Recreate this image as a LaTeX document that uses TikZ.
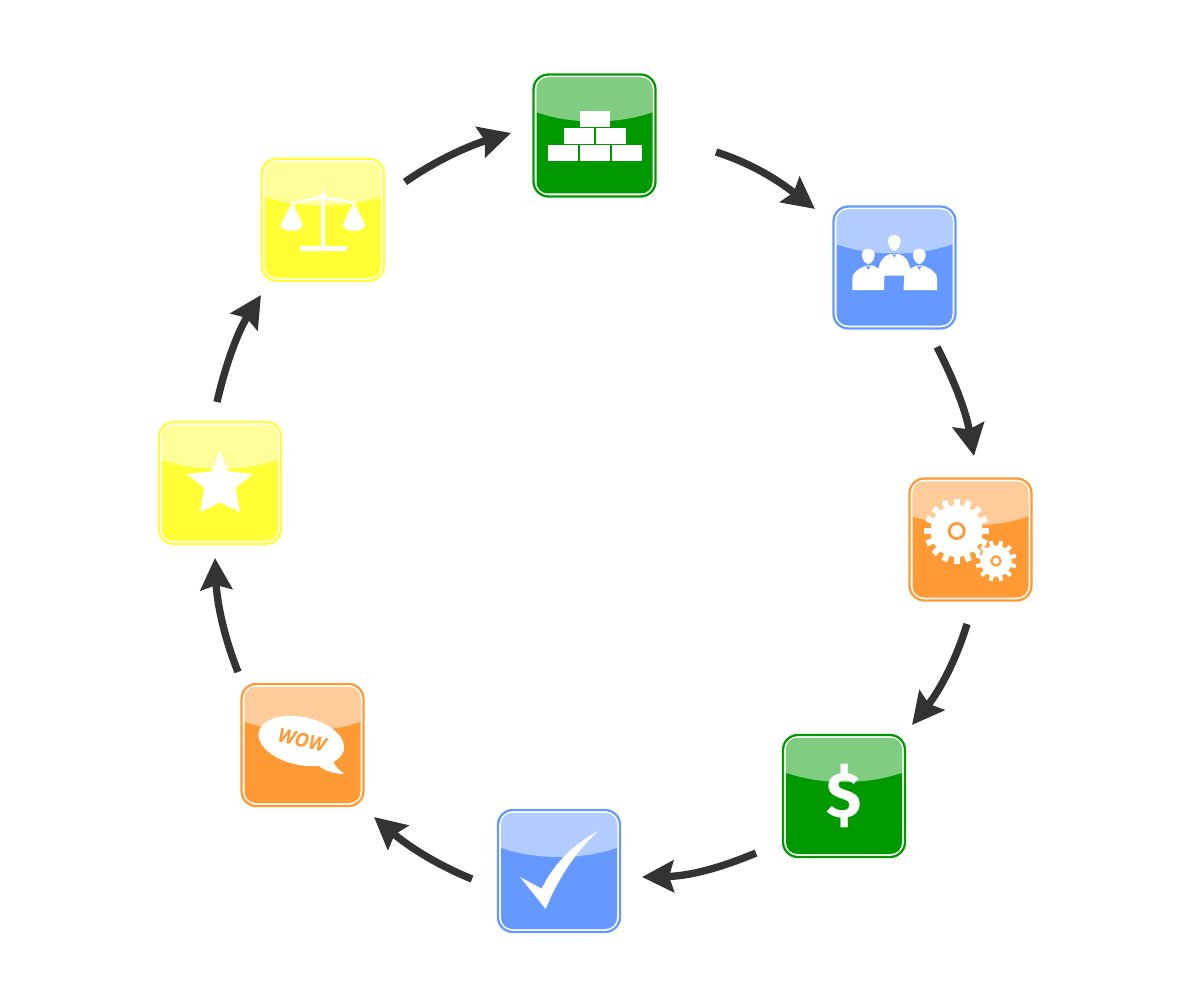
\documentclass[tikz,border=0pt]{standalone}
\usepackage{fontspec}
\setmainfont{Open Sans}
\newfontfamily\dollarfont{Fira Sans}
\usetikzlibrary{arrows.meta}
\definecolor{igreen}{HTML}{009900}
\definecolor{iblue}{HTML}{6699FF}
\definecolor{iorange}{HTML}{FF9933}
\definecolor{iyellow}{HTML}{FFFF33}
\definecolor{flowgrey}{HTML}{333333}
\tikzset{
  iconbox/.style={draw=#1,fill=white,rectangle,line width=1.3pt,minimum size=2.44cm,inner sep=0pt,outer sep=0pt,rounded corners=8.5pt},
  flow/.style={draw=flowgrey,line width=4.2pt,-{Stealth[length=18pt,width=18pt,inset=2.6pt,fill=flowgrey]}},
  glyph/.style={fill=white,draw=none},
}
% name, x, y, colour
\newcommand{\iconbase}[4]{%
  \node[iconbox=#4] (#1) at (#2,#3) {};
  \begin{scope}[shift={(#1.center)}]
    \fill[#4,rounded corners=6.5pt] (-58,-58) rectangle (58,58);
    \begin{scope}
      \clip[rounded corners=6.5pt] (-58,-58) rectangle (58,58);
      \fill[white,opacity=.5] (-60,-60) -- (60,-60) -- (60,-24) .. controls (25,-10.7) and (-25,-10.7) .. (-60,-24) -- cycle;
    \end{scope}
  \end{scope}}
\begin{document}
\begin{tikzpicture}[x=.02cm,y=-.02cm]
\useasboundingbox (0,0) rectangle (1200,1000);

% bricks
\iconbase{a}{594.5}{135.5}{igreen}
\begin{scope}[shift={(a.center)}]
  \fill[glyph] (-14.5,-24.5) rectangle (15.5,-8.8);
  \fill[glyph] (-31,-7.2) rectangle (-.5,8.2);
  \fill[glyph] (1,-7.2) rectangle (31.5,8.2);
  \fill[glyph] (-47,9.8) rectangle (-16.8,25.2);
  \fill[glyph] (-14.5,9.8) rectangle (15.5,25.2);
  \fill[glyph] (17.2,9.8) rectangle (47.5,25.2);
\end{scope}

% people
\iconbase{b}{894.5}{267.5}{iblue}
\begin{scope}[shift={(b.center)}]
  \fill[glyph] (-42.2,22.5) -- (-42.2,11) .. controls (-42.2,5) and (-36,1) .. (-28,-2) -- (-22,-2) -- (-10,4) -- (-10.5,22.5) -- cycle;
  \fill[glyph] (42.7,22.5) -- (42.7,11) .. controls (42.7,5) and (36,1) .. (28,-2) -- (22,-2) -- (10,4) -- (9,22.5) -- cycle;
  \fill[glyph] (-16.5,8) .. controls (-16.5,-5) and (-12,-11) .. (-4,-13.5) -- (4,-13.5) .. controls (12,-11) and (16,-5) .. (16,8) -- cycle;
  \fill[glyph] (-26.2,-13) ellipse [x radius=6.3,y radius=5.8];
  \fill[glyph] (-26.2,-13) -- (-19.9,-12) .. controls (-19.9,-7) and (-24.4,-3.5) .. (-26.2,-3.5) .. controls (-28,-3.5) and (-32.5,-7) .. (-32.5,-12) -- cycle;
  \fill[glyph] (24.8,-13) ellipse [x radius=6.3,y radius=5.8];
  \fill[glyph] (24.8,-13) -- (31.1,-12) .. controls (31.1,-7) and (26.6,-3.5) .. (24.8,-3.5) .. controls (23,-3.5) and (18.5,-7) .. (18.5,-12) -- cycle;
  \fill[glyph] (-.2,-26.5) ellipse [x radius=6.2,y radius=6];
  \fill[glyph] (-6.4,-26) .. controls (-6.4,-21) and (-2,-16.5) .. (-.2,-16.5) .. controls (1.6,-16.5) and (6,-21) .. (6,-26) -- cycle;
  \fill[iblue] (-29,-2.5) -- (-26.2,2.5) -- (-23.5,-2.5) -- (-26.2,-.5) -- cycle (22,-2.5) -- (24.8,2.5) -- (27.5,-2.5) -- (24.8,-.5) -- cycle (-3,-14.5) -- (-.2,-10) -- (2.6,-14.5) -- (-.2,-12.5) -- cycle;
\end{scope}

% gears
\iconbase{c}{970.5}{539.5}{iorange}
\begin{scope}[shift={(c.center)}]
  \foreach \r in {0,22.5,...,350}
    \fill[glyph,shift={(-13.8,-8.5)},rotate=\r] (-3,-32.5) rectangle (3,0);
  \fill[glyph] (-13.8,-8.5) circle [radius=26];
  \draw[iorange,line width=1.6pt] (-13.8,-8.5) circle [radius=7.6];
  \fill[iorange] (25.5,21.5) circle [radius=16.6];
  \foreach \r in {15,45,...,350}
    \fill[glyph,shift={(25.5,21.5)},rotate=\r] (-2,-20.5) rectangle (2,0);
  \fill[glyph] (25.5,21.5) circle [radius=15.7];
  \draw[iorange,line width=1.2pt] (25.5,21.5) circle [radius=4.6];
\end{scope}

% dollar
\iconbase{d}{844}{796}{igreen}
\node[white,font=\dollarfont\bfseries\fontsize{36.5}{36.5}\selectfont,inner sep=0pt] (dollar) at (d.center) {\$};

% check
\iconbase{e}{559}{871}{iblue}
\begin{scope}[shift={(e.center)}]
  \fill[glyph] (-39,6) -- (-17.3,17.7) .. controls (-5,-8) and (15,-27) .. (39.3,-40) .. controls (15,-18) and (-3,12) .. (-13.3,38) -- cycle;
\end{scope}

% speech bubble
\iconbase{f}{302.5}{745}{iorange}
\begin{scope}[shift={(f.center)}]
  \fill[glyph,shift={(-1.2,-4)},rotate=-12] (0,0) ellipse [x radius=43.5,y radius=24];
  \fill[glyph] (15.5,20) .. controls (22,26) and (32,29) .. (42,29) .. controls (36,25) and (32,21) .. (30,14) -- cycle;
\end{scope}
\node[iorange,rotate=-12,inner sep=0pt,font=\bfseries\itshape\fontsize{11}{11}\selectfont] (wow) at ([shift={(-.5,-5)}]f.center) {WOW};

% star
\iconbase{g}{220}{483}{iyellow}
\begin{scope}[shift={(g.center)}]
  \fill[glyph] (0,-32.7) -- (8.3,-11.7) -- (32.7,-9) -- (15.7,5) -- (20,29.3) -- (0,19.3) -- (-20,29.3) -- (-15.7,5) -- (-33.3,-9) -- (-8.3,-11.7) -- cycle;
\end{scope}

% scales
\iconbase{h}{322.8}{219.8}{iyellow}
\begin{scope}[shift={(h.center)}]
  \fill[glyph] (.3,-35) .. controls (1,-28) and (2,-25) .. (3.5,-23) -- (2,-20) -- (2,27) -- (-1.6,27) -- (-1.6,-20) -- (-3,-23) .. controls (-1.5,-25) and (-.5,-28) .. (.3,-35) -- cycle;
  \fill[glyph] (-22.7,26.7) rectangle (23.7,31);
  \fill[glyph] (-31,-17.7) -- (0,-24) -- (32.3,-17.7) -- (32.3,-15.7) -- (0,-21) -- (-31,-15.7) -- cycle;
  \fill[glyph] (-31,-16.7) -- (-29.8,-16.7) -- (-20,5) .. controls (-20,13) and (-42.3,13) .. (-42.3,5) -- cycle;
  \fill[glyph] (31.7,-16.7) -- (30.5,-16.7) -- (20,5) .. controls (20,13) and (42.3,13) .. (42.3,5) -- cycle;
\end{scope}

% connectors
\draw[flow] ([shift={(121.5,16.5)}]a.center) .. controls (750,163) and (775,178) .. ([shift={(-79.5,-58.5)}]b.center);
\draw[flow] ([shift={(42.5,79.5)}]b.center) .. controls (955,382) and (966,412) .. ([shift={(3.5,-83.5)}]c.center);
\draw[flow] ([shift={(-3.5,84.5)}]c.center) .. controls (956,660) and (940,690) .. ([shift={(68,-71)}]d.center);
\draw[flow] ([shift={(-88,57)}]d.center) .. controls (720,868) and (690,876) .. ([shift={(83,6)}]e.center);
\draw[flow] ([shift={(-87,8)}]e.center) .. controls (437,865) and (408,846) .. ([shift={(71.5,72)}]f.center);
\draw[flow] ([shift={(-64.5,-73)}]f.center) .. controls (224,637) and (217,603) .. ([shift={(-5,75)}]g.center);
\draw[flow] ([shift={(-3,-81)}]g.center) .. controls (225,367) and (237,333) .. ([shift={(-61.8,75.2)}]h.center);
\draw[flow] ([shift={(82.2,-37.8)}]h.center) .. controls (435,161) and (468,146) .. ([shift={(-83.5,-2.5)}]a.center);
\end{tikzpicture}
\end{document}
